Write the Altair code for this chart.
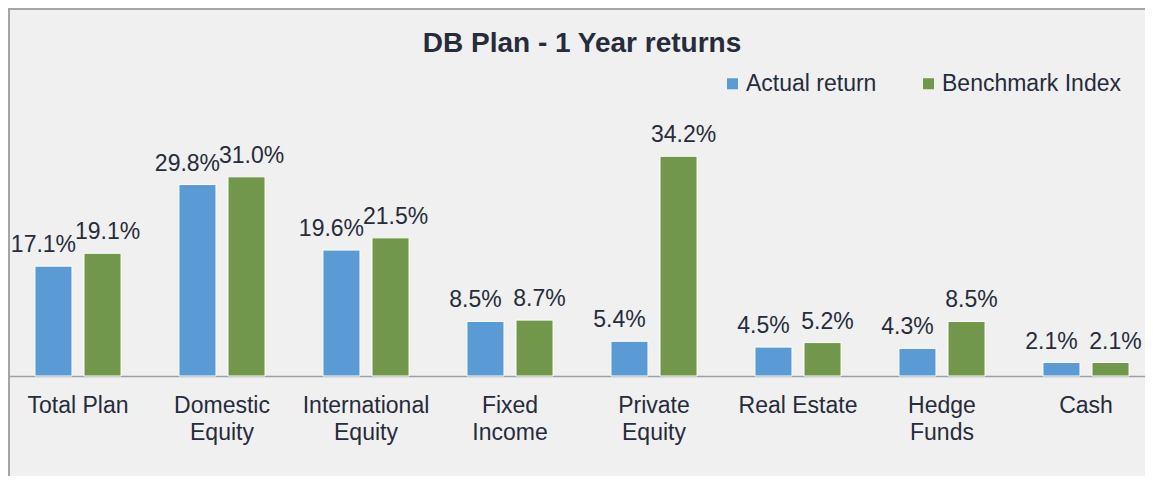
import altair as alt
import pandas as pd

categories = ["Total Plan", "Domestic Equity", "International Equity", "Fixed Income",
              "Private Equity", "Real Estate", "Hedge Funds", "Cash"]
actual_return = [17.1, 29.8, 19.6, 8.5, 5.4, 4.5, 4.3, 2.1]
benchmark_index = [19.1, 31.0, 21.5, 8.7, 34.2, 5.2, 8.5, 2.1]
series_names = ["Actual return", "Benchmark Index"]
series_colors = ["#5B9BD5", "#70974A"]
title_text = "DB Plan - 1 Year returns"

rows = []
for c, a, b in zip(categories, actual_return, benchmark_index):
    rows.append({"category": c, "series": series_names[0], "value": a})
    rows.append({"category": c, "series": series_names[1], "value": b})
df = pd.DataFrame(rows)

FONT = "Liberation Sans"
TXT = "#262C3A"

x_enc = alt.X(
    "category:N",
    sort=categories,
    scale=alt.Scale(range=[-2, 1150], paddingInner=0, paddingOuter=0),
    axis=alt.Axis(
        title=None, ticks=False, labelAngle=0, labelFontSize=23, labelFont=FONT,
        labelColor=TXT, labelPadding=18, labelLineHeight=27,
        domainColor="#A0A0A0", domainWidth=1.5, grid=False,
        labelExpr="(datum.label == 'Total Plan' || datum.label == 'Real Estate') ? datum.label : split(datum.label, ' ')",
    ),
)
xoff_enc = alt.XOffset("series:N", sort=series_names,
                       scale=alt.Scale(paddingInner=0.245, paddingOuter=0.59))
y_enc = alt.Y("value:Q", scale=alt.Scale(domain=[0, 40], nice=False), axis=None)

base = alt.Chart(df)

bars = base.mark_bar(stroke="white", strokeWidth=1).encode(
    x=x_enc,
    xOffset=xoff_enc,
    y=y_enc,
    color=alt.Color(
        "series:N",
        scale=alt.Scale(domain=series_names, range=series_colors),
        legend=alt.Legend(
            title=None, orient="none", direction="horizontal",
            legendX=713, legendY=-47, symbolType="square", symbolSize=121,
            symbolStrokeWidth=0, labelFontSize=23, labelFont=FONT, labelColor=TXT,
            labelOffset=2, columnPadding=40, padding=0, labelLimit=0,
        ),
    ),
)

def labels(series, dx):
    return base.transform_filter(alt.datum.series == series).transform_calculate(
        label="format(datum.value, '.1f') + '%'"
    ).mark_text(
        fontSize=23, font=FONT, color=TXT, baseline="alphabetic", dy=-14, dx=dx
    ).encode(
        x=x_enc, xOffset=xoff_enc, y=y_enc, text="label:N"
    )

one = pd.DataFrame({"k": [0]})
title = alt.Chart(one).mark_text(
    fontSize=28, font=FONT, fontWeight="bold", color=TXT, baseline="alphabetic", align="center"
).encode(x=alt.value(574), y=alt.value(-67), text=alt.value(title_text))

border_top = alt.Chart(one).mark_rule(color="#A5A5A5", strokeWidth=2).encode(
    x=alt.value(0), x2=alt.value(1137), y=alt.value(-110))
border_left = alt.Chart(one).mark_rule(color="#A5A5A5", strokeWidth=2).encode(
    x=alt.value(1), y=alt.value(-110), y2=alt.value(357))

chart = alt.layer(
    bars, labels(series_names[0], -10), labels(series_names[1], 5), title, border_top, border_left
).properties(
    width=1137, height=257,
    autosize=alt.AutoSizeParams(type="none"),
    padding={"left": 0, "top": 111, "right": 0, "bottom": 100},
    background="#F0F0F0",
).configure_view(stroke=None).configure_scale(bandPaddingInner=0)

chart.save("out.html", embed_options={"renderer": "svg", "actions": False})
